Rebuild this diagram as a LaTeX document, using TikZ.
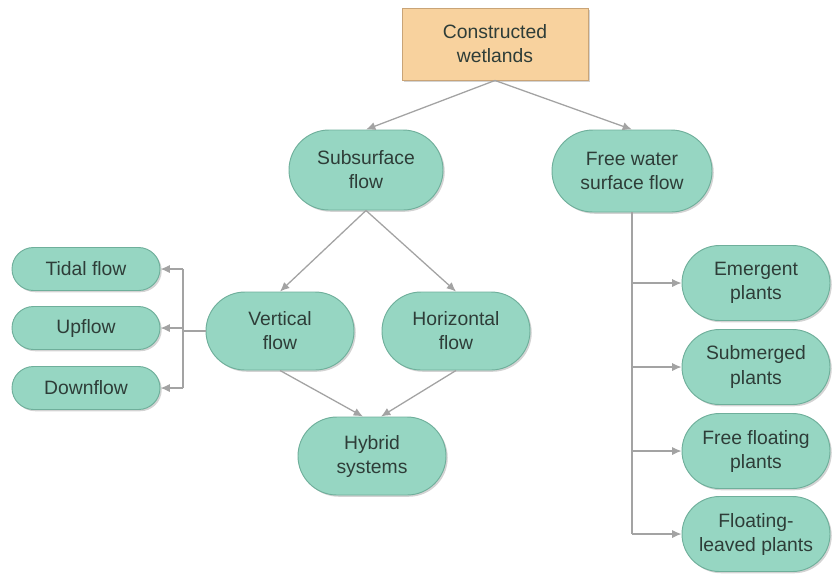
\documentclass[tikz,border=0pt]{standalone}
\usepackage{fontspec}
\setmainfont{Liberation Sans}
\usepackage{tikz}
\usetikzlibrary{shapes.geometric}
\usetikzlibrary{arrows.meta,shapes,shapes.misc,shadows}
\usetikzlibrary{calc,positioning}
\usepackage[dvipsnames]{xcolor}
\definecolor{pillfill}{HTML}{96D6C2}
\definecolor{pillline}{HTML}{6FAF9B}
\definecolor{rootfill}{HTML}{F8D29E}
\definecolor{rootline}{HTML}{C9A477}
\definecolor{inkcol}{HTML}{2E3D38}
\definecolor{linkcol}{HTML}{A3A3A3}
\begin{document}
\begin{tikzpicture}[x=0.03cm,y=-0.03cm,
    pill/.style={rounded rectangle, draw=pillline, fill=pillfill, line width=0.8pt, text=inkcol, align=center,
        minimum width=148*0.03cm, minimum height=78*0.03cm, inner sep=0pt,
        font=\fontsize{16.5}{20.5}\selectfont, drop shadow={shadow xshift=1.5pt,shadow yshift=-1.5pt,opacity=0.35}},
    small/.style={pill, minimum height=43*0.03cm},
    rootbox/.style={rectangle, draw=rootline, fill=rootfill, line width=0.8pt, text=inkcol, align=center,
        minimum width=186*0.03cm, minimum height=72*0.03cm,
        font=\fontsize{16.5}{20.5}\selectfont, drop shadow={shadow xshift=1.5pt,shadow yshift=-1.5pt,opacity=0.35}},
    line/.style={draw=linkcol, line width=1.1pt},
    link/.style={line, -{Latex[length=8pt,width=7pt]}, color=linkcol}]

    \useasboundingbox (0,0) rectangle (836,574);

    % top of the tree
    \node[rootbox] (root) at (495,44) {Constructed\\wetlands};
    \node[pill, minimum width=154*0.03cm, minimum height=80*0.03cm] (sub) at (366,170) {Subsurface\\flow};
    \node[pill, minimum width=160*0.03cm, minimum height=82*0.03cm] (fws) at (632,171) {Free water\\surface flow};

    % subsurface branch
    \node[pill] (vert) at (280,331) {Vertical\\flow};
    \node[pill] (horiz) at (456,331) {Horizontal\\flow};
    \node[pill] (hyb) at (372,456) {Hybrid\\systems};

    \node[small] (tidal) at (86,269) {Tidal flow};
    \node[small] (up) at (86,328) {Upflow};
    \node[small] (down) at (86,388) {Downflow};

    % free water branch
    \node[pill, minimum height=75*0.03cm] (emerg) at (756,283) {Emergent\\plants};
    \node[pill, minimum height=75*0.03cm] (subm) at (756,367) {Submerged\\plants};
    \node[pill, minimum height=75*0.03cm] (ffloat) at (756,451) {Free floating\\plants};
    \node[pill, minimum height=75*0.03cm] (leaved) at (756,534) {Floating-\\leaved plants};

    % connectors
    \draw[link] (root.south) -- (sub.north);
    \draw[link] (root.south) -- (fws.north);
    \draw[link] (sub.south) -- (vert.north);
    \draw[link] (sub.south) -- (horiz.north);
    \draw[link] (vert.south) -- ($(hyb.north)+(-9,0)$);
    \draw[link] (horiz.south) -- ($(hyb.north)+(9,0)$);

    \coordinate (lbar) at (183,331);
    \draw[line] (vert.west) -- (lbar);
    \draw[line] (lbar |- tidal) -- (lbar |- down);
    \foreach \n in {tidal,up,down}{
        \draw[link] (lbar |- \n) -- (\n.east);
    }

    \draw[line] (fws.south) -- (fws.south |- leaved);
    \foreach \n in {emerg,subm,ffloat,leaved}{
        \draw[link] (fws.south |- \n) -- (\n.west);
    }
\end{tikzpicture}
\end{document}
